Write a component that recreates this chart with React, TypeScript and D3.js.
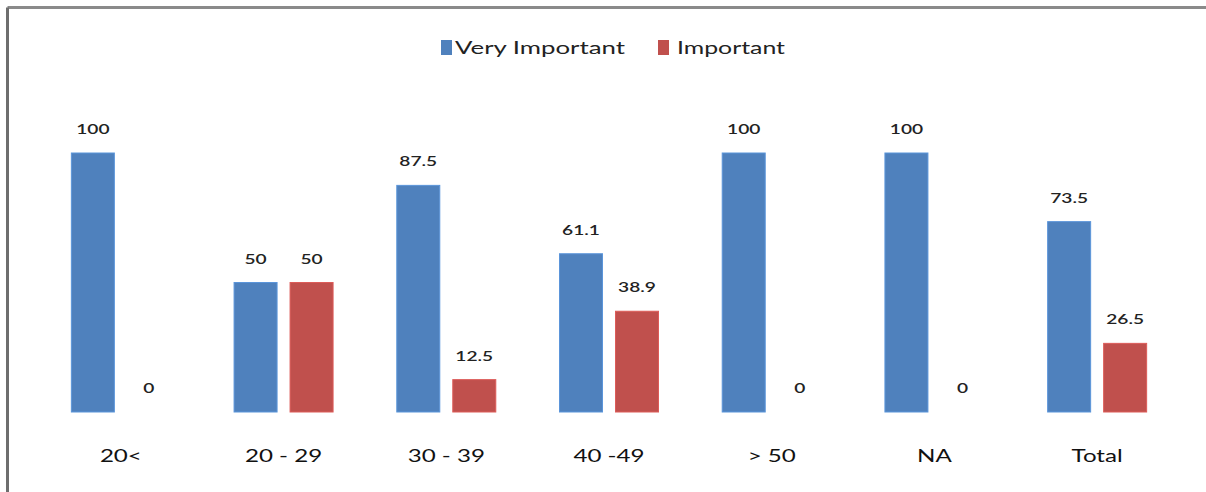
import React from "react";
import * as d3 from "d3";

const categories = ["20<", "20 - 29", "30 - 39", "40 -49", "> 50", "NA", "Total"];
const veryImportant = [100, 50, 87.5, 61.1, 100, 100, 73.5];
const important = [0, 50, 12.5, 38.9, 0, 0, 26.5];
const seriesNames = ["Very Important", "Important"];
const colors = ["#4F81BD", "#C0504D"];

export default function App() {
  const W = 1206, H = 492;
  const x = d3.scaleBand<string>().domain(categories).range([39.5, 1178.5]).paddingInner(0).paddingOuter(0);
  const y = d3.scaleLinear().domain([0, 100]).range([412, 153]);
  const barW = 43, gap = 13;
  const font = "Lato, 'Open Sans', sans-serif";
  const sx = 1.42;
  const series = [veryImportant, important];
  return (
    <div style={{ position: "absolute", left: 0, top: 0, width: W, height: H, overflow: "hidden" }}>
      <svg width={W} height={H} style={{ display: "block", background: "#fff" }}>
        <rect x={0} y={0} width={W} height={H} fill="#fff" />
        <line x1={7.5} y1={7.5} x2={W} y2={7.5} stroke="#8a8a8a" strokeWidth={3} />
        <line x1={7.5} y1={7.5} x2={7.5} y2={H} stroke="#6e6e6e" strokeWidth={3} />
        {categories.map((c, i) => {
          const cx = (x(c) ?? 0) + x.bandwidth() / 2;
          return (
            <g key={c}>
              {series.map((s, k) => {
                const bx = k === 0 ? cx - gap / 2 - barW : cx + gap / 2;
                const v = s[i];
                return (
                  <g key={k}>
                    {v > 0 && (
                      <rect x={bx} y={y(v)} width={barW} height={y(0) - y(v)} fill={colors[k]} stroke={d3.color(colors[k])!.brighter(0.4).toString()} strokeWidth={1} />
                    )}
                    <text transform={`translate(${bx + barW / 2},${y(v) - 19}) scale(${sx},1)`} textAnchor="middle" fontFamily={font} fontSize={13.5} fontWeight={600} fill="#222">
                      {String(v)}
                    </text>
                  </g>
                );
              })}
              <text transform={`translate(${cx},${462}) scale(${sx},1)`} textAnchor="middle" fontFamily={font} fontSize={17} fill="#111">{c}</text>
            </g>
          );
        })}
        <g>
          <rect x={441} y={40} width={11} height={15} fill={colors[0]} />
          <text x={455} y={54} fontFamily={font} fontSize={18} fill="#222" textLength={170} lengthAdjust="spacingAndGlyphs">{seriesNames[0]}</text>
          <rect x={658} y={40} width={11} height={15} fill={colors[1]} />
          <text x={677} y={54} fontFamily={font} fontSize={18} fill="#222" textLength={108} lengthAdjust="spacingAndGlyphs">{seriesNames[1]}</text>
        </g>
      </svg>
    </div>
  );
}
